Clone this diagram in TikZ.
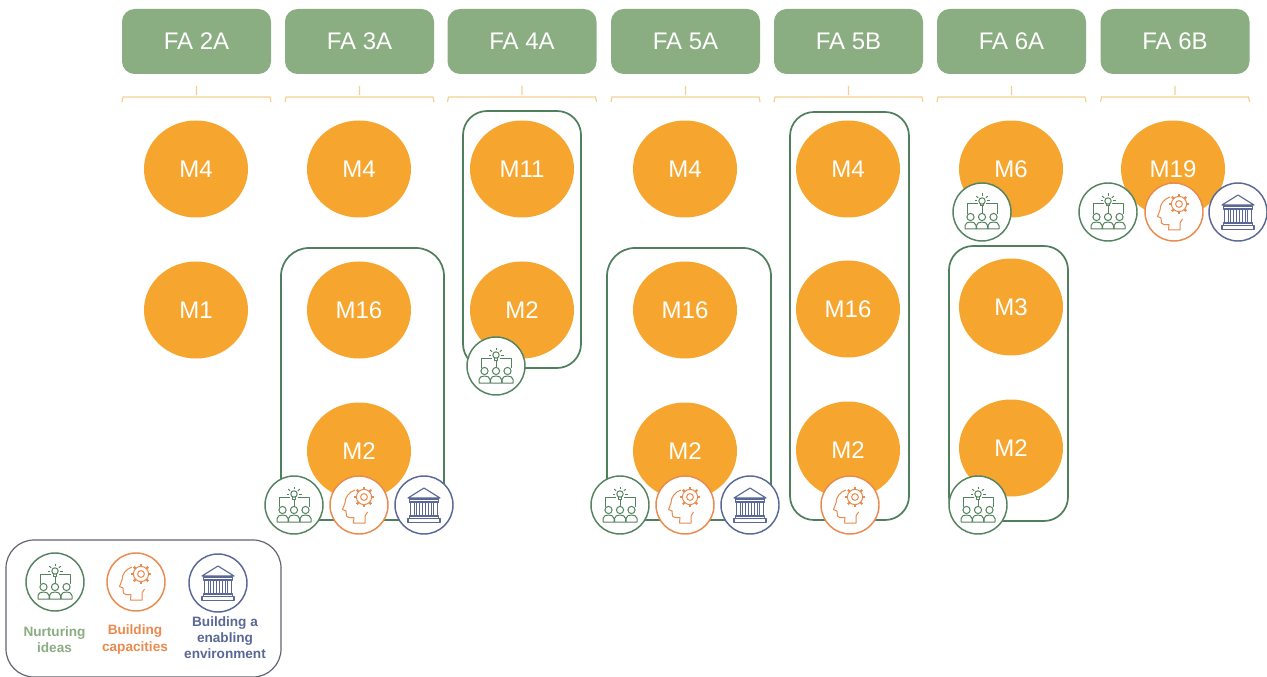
\documentclass[tikz,border=0pt]{standalone}
\usepackage{fontspec}
\setmainfont{Liberation Sans}
\usetikzlibrary{shapes.geometric}
\definecolor{hdr}{HTML}{8BAD82}
\definecolor{oran}{HTML}{F6A62E}
\definecolor{brk}{HTML}{F3D193}
\definecolor{frm}{HTML}{4F7F5C}
\definecolor{icg}{HTML}{55835F}
\definecolor{ico}{HTML}{E98A4E}
\definecolor{icb}{HTML}{5A6896}
\definecolor{leg}{HTML}{5F6470}
\tikzset{
  x=0.75pt,y=-0.75pt,
  hbox/.style={draw=none,fill=hdr,rounded corners=9.5pt,minimum width=111.75pt,minimum height=48.75pt,text=white,font=\fontsize{18}{21}\selectfont,inner sep=0pt},
  mod/.style={ellipse,fill=oran,minimum width=78pt,minimum height=72.75pt,text=white,font=\fontsize{18}{21}\selectfont,inner sep=0pt},
  grp/.style={draw=frm,line width=1.3pt,rounded corners=21pt},
  bracket/.style={draw=brk,line width=0.9pt},
  badge/.style={circle,fill=white,draw=#1,line width=1.1pt,minimum size=43.5pt,inner sep=0pt},
  icon/.style={line width=0.75pt,line join=round},
  legtxt/.style={font=\bfseries\fontsize{10.2}{12.1}\selectfont,align=center,inner sep=0pt}
}
\tikzset{
 pics/ideas/.style={code={
  \begin{scope}[icon,draw=icg]
   \foreach \a in {-11.5,0,11.5}{
    \draw (\a,5) circle[radius=3.6];
    \draw (\a-5.5,17) -- (\a-5.5,13.5) .. controls (\a-5.5,11) and (\a-2.5,10) .. (\a,10) .. controls (\a+2.5,10) and (\a+5.5,11) .. (\a+5.5,13.5) -- (\a+5.5,17) -- cycle;
   }
   \draw (-15,2) -- (-15,-8) -- (-4,-8) (15,2) -- (15,-8) -- (4,-8) (0,1.4) -- (0,-6);
   \begin{scope}[shift={(0,-11)}]
    \draw (0,0) circle[radius=3.2];
    \draw (-1.5,3) -- (-1.5,5) -- (1.5,5) -- (1.5,3);
    \foreach \r in {0,40,90,140,180}{\draw (\r:-5) -- (\r:-7.5);}
   \end{scope}
  \end{scope}}},
 pics/head/.style={code={
  \begin{scope}[icon,draw=ico]
   \draw (-4,-15) .. controls (-10,-13) and (-14,-8) .. (-14,-2) -- (-16.5,4.5) -- (-13,6) -- (-12.5,11) .. controls (-12,13) and (-9,13) .. (-5,12.5) -- (-5.5,18) -- (6,18) -- (6,11) -- (8.5,7);
   \begin{scope}[shift={(5,-8)}]
    \draw (0,0) circle[radius=3.4];
    \draw (0,0) circle[radius=7.6];
    \foreach \r in {0,45,...,315}{\draw[line width=1.6pt] (\r:7.6) -- (\r:10.2);}
   \end{scope}
  \end{scope}}},
 pics/temple/.style={code={
  \begin{scope}[icon,draw=icb,line width=0.85pt]
   \draw (-16,-7) -- (0,-17) -- (16,-7) -- cycle;
   \draw (-14.5,-6) rectangle (14.5,-3);
   \foreach \a in {-11.5,-5.8,0,5.8,11.5}{\draw (\a-1.7,-3) rectangle (\a+1.7,11);}
   \draw (-14.5,11) rectangle (14.5,13.5);
   \draw (-16,13.5) rectangle (16,17.5);
  \end{scope}}}
}
\newcommand{\badgeat}[4]{\node[badge=#1] (#2) at #3 {}; \pic at (#2.center) {#4};}
\begin{document}
\begin{tikzpicture}
\useasboundingbox (0,0) rectangle (1267,677);
% headers
\foreach \n/\t/\c/\w in {h1/FA 2A/196.5/149,h2/FA 3A/359.5/149,h3/FA 4A/522/150,h4/FA 5A/685.5/149,h5/FA 5B/848.5/149,h6/FA 6A/1011.5/149,h7/FA 6B/1175/150}{
  \node[hbox] (\n) at (\c,41.5) {\t};
  \coordinate (\n s) at (\c,86);
  \draw[bracket] (\n s) -- ++(0,9) ++(-74.5,7) -- ++(1,-5) -- ++(147,0) -- ++(1,5);
}
% modules
\foreach \n/\t/\x/\y in {a1/M4/196/169,a2/M1/196/310,b1/M4/359/169,b2/M16/359/310,b3/M2/359/451,c1/M11/522/169,c2/M2/522/310,d1/M4/685/169,d2/M16/685/310,d3/M2/685/451,e1/M4/848/169,e2/M16/848/309,e3/M2/848/450,f1/M6/1011/169,f2/M3/1011/307,f3/M2/1011/448,g1/M19/1173/169}{
  \node[mod] (\n) at (\x,\y) {\t};
}
% groups
\draw[grp] (281,248) rectangle (444,520);
\draw[grp,rounded corners=18pt] (463,111) rectangle (581,368);
\draw[grp] (607,248) rectangle (771,520);
\draw[grp,rounded corners=18pt] (790,112) rectangle (909,520);
\draw[grp,rounded corners=18pt] (949,246) rectangle (1068,521);
% badges
\badgeat{icg}{b4}{(294,505)}{ideas}
\badgeat{ico}{b5}{(359,505)}{head}
\badgeat{icb}{b6}{(424,505)}{temple}
\badgeat{icg}{c3}{(496,366)}{ideas}
\badgeat{icg}{d4}{(620,505)}{ideas}
\badgeat{ico}{d5}{(685,505)}{head}
\badgeat{icb}{d6}{(750,505)}{temple}
\badgeat{ico}{e4}{(850,505)}{head}
\badgeat{icg}{f4}{(978,505)}{ideas}
\badgeat{icg}{f5}{(982,212)}{ideas}
\badgeat{icg}{g2}{(1108,212)}{ideas}
\badgeat{ico}{g3}{(1174,212)}{head}
\badgeat{icb}{g4}{(1238,212)}{temple}
% legend
\draw[draw=leg,line width=0.9pt,rounded corners=21pt] (6,540) rectangle (281,677);
\badgeat{icg}{l1}{(55,582)}{ideas}
\badgeat{ico}{l2}{(136,582)}{head}
\badgeat{icb}{l3}{(218,583)}{temple}
\node[legtxt,text=hdr] (t1) at (54.5,639.5) {Nurturing\\ideas};
\node[legtxt,text=ico] (t2) at (135,639.5) {Building\\capacities};
\node[legtxt,text=icb] (t3) at (225,637.5) {Building a\\enabling\\environment};
\end{tikzpicture}
\end{document}
